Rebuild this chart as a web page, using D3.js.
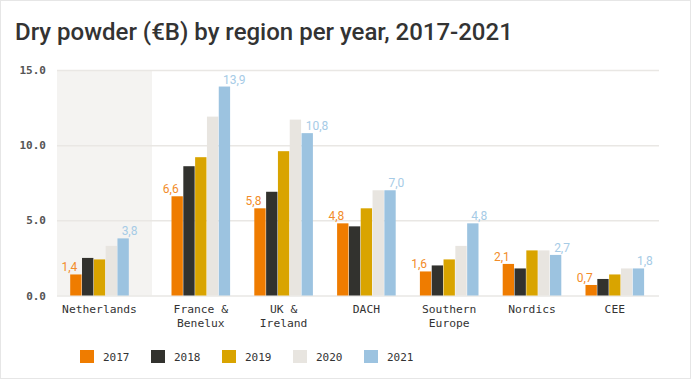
<!DOCTYPE html>
<html><head><meta charset="utf-8">
<script src="https://cdn.jsdelivr.net/npm/d3@7"></script>
<style>
html,body{margin:0;padding:0;background:#fff;}
svg{display:block;}
</style></head>
<body>
<svg id="chart" width="691" height="380"></svg>
<script>
const title = "Dry powder (€B) by region per year, 2017-2021";
const categories = ["Netherlands", "France & Benelux", "UK & Ireland", "DACH", "Southern Europe", "Nordics", "CEE"];
const categoryLines = [["Netherlands"], ["France &", "Benelux"], ["UK &", "Ireland"], ["DACH"], ["Southern", "Europe"], ["Nordics"], ["CEE"]];
const years = ["2017", "2018", "2019", "2020", "2021"];
const v2017 = [1.4, 6.6, 5.8, 4.8, 1.6, 2.1, 0.7];
const v2018 = [2.5, 8.6, 6.9, 4.6, 2.0, 1.8, 1.1];
const v2019 = [2.4, 9.2, 9.6, 5.8, 2.4, 3.0, 1.4];
const v2020 = [3.3, 11.9, 11.7, 7.0, 3.3, 3.0, 1.8];
const v2021 = [3.8, 13.9, 10.8, 7.0, 4.8, 2.7, 1.8];
const yTicks = [0, 5, 10, 15];
const highlighted = "Netherlands";

const series = [v2017, v2018, v2019, v2020, v2021];
const colors = ["#ef7c00", "#32322e", "#d9a400", "#e8e5e0", "#9cc3e0"];
const labelColors = {0: "#f28c2a", 4: "#a6cbe6"};

const svg = d3.select("#chart");
const W = 691, H = 380;
svg.append("rect").attr("x", 0.5).attr("y", 0.5).attr("width", W - 1).attr("height", H - 2)
  .attr("fill", "#fff").attr("stroke", "#e6e6e6");

svg.append("text").attr("x", 15).attr("y", 39.5).text(title)
  .attr("font-family", "Roboto, 'Noto Sans', sans-serif").attr("font-size", 24)
  .attr("font-weight", 500).attr("fill", "#333");

const plotL = 57, plotR = 659, y0px = 295.5, y15px = 70;
const y = d3.scaleLinear().domain([0, 15]).range([y0px, y15px]);
const x = d3.scaleBand().domain(categories).range([76.6, 656.2]);
const highlightShift = -18.5;
const cx = c => x(c) + x.bandwidth() / 2 + (c === highlighted ? highlightShift : 0);
const xi = d3.scaleBand().domain(years).range([-29.3, 29.3]).paddingInner(0.04);

// highlight band
svg.append("rect").attr("x", plotL).attr("y", y(15)).attr("width", 95).attr("height", y(0) - y(15))
  .attr("fill", "#f4f3f1");

// grid
const yAxis = d3.axisLeft(y).tickValues(yTicks).tickSize(-(plotR - plotL)).tickFormat(d3.format(".1f"));
const ga = svg.append("g").attr("transform", `translate(${plotL},0)`).call(yAxis);
ga.select(".domain").remove();
ga.selectAll(".tick line").attr("stroke", "#e9e7e4").attr("stroke-width", 1.5);
ga.selectAll(".tick text").attr("x", -11).attr("font-family", "'DejaVu Sans Mono', monospace")
  .attr("font-size", 11).attr("font-weight", "bold").attr("fill", "#555");

// bars
categories.forEach((c, ci) => {
  series.forEach((s, si) => {
    svg.append("rect")
      .attr("x", cx(c) + xi(years[si]))
      .attr("y", y(s[ci]))
      .attr("width", xi.bandwidth())
      .attr("height", y(0) - y(s[ci]))
      .attr("fill", colors[si]);
  });
  const fmt = v => d3.format(".1f")(v).replace(".", ",");
  svg.append("text").attr("x", cx(c) + xi("2017") + xi.bandwidth() / 2 + 1.5)
    .attr("y", y(v2017[ci]) - 3).attr("text-anchor", "end")
    .attr("font-family", "Roboto, sans-serif").attr("font-size", 12)
    .attr("fill", labelColors[0]).text(fmt(v2017[ci]));
  svg.append("text").attr("x", cx(c) + xi("2021") + xi.bandwidth() / 2 - 1.5)
    .attr("y", y(v2021[ci]) - 3).attr("text-anchor", "start")
    .attr("font-family", "Roboto, sans-serif").attr("font-size", 12)
    .attr("fill", labelColors[4]).text(fmt(v2021[ci]));
  const t = svg.append("text").attr("text-anchor", "middle")
    .attr("font-family", "'DejaVu Sans Mono', monospace").attr("font-size", 11.3)
    .attr("fill", "#333");
  categoryLines[ci].forEach((ln, li) => {
    t.append("tspan").attr("x", cx(c)).attr("y", 313 + li * 14).text(ln);
  });
});

// legend
const lg = d3.scaleBand().domain(years).range([80, 435]);
years.forEach((yr, i) => {
  svg.append("rect").attr("x", lg(yr)).attr("y", 350).attr("width", 14).attr("height", 13).attr("fill", colors[i]);
  svg.append("text").attr("x", lg(yr) + 23).attr("y", 360.5).text(yr)
    .attr("font-family", "'DejaVu Sans Mono', monospace").attr("font-size", 11).attr("fill", "#333");
});
</script>
</body></html>
